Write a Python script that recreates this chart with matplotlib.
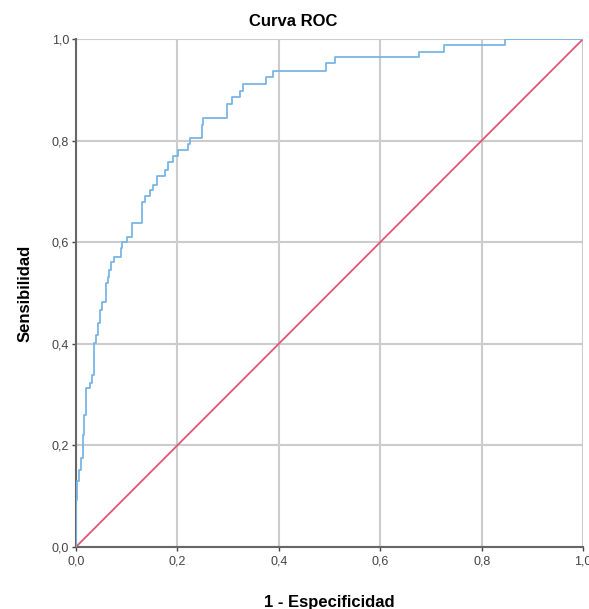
import matplotlib
matplotlib.use("Agg")
from matplotlib import pyplot as plt

# ROC curve: start of each horizontal step (1 - especificidad, sensibilidad)
fpr = [0.000, 0.000, 0.002, 0.006, 0.010, 0.014, 0.016, 0.020, 0.028, 0.031,
       0.036, 0.039, 0.043, 0.047, 0.052, 0.060, 0.063, 0.066, 0.070, 0.074,
       0.088, 0.090, 0.100, 0.110, 0.131, 0.136, 0.146, 0.152, 0.159, 0.175,
       0.182, 0.192, 0.201, 0.221, 0.224, 0.248, 0.251, 0.298, 0.308, 0.324,
       0.329, 0.375, 0.388, 0.493, 0.510, 0.677, 0.726, 0.846, 1.000]
tpr = [0.000, 0.093, 0.130, 0.152, 0.175, 0.220, 0.260, 0.312, 0.322, 0.339,
       0.401, 0.417, 0.440, 0.467, 0.483, 0.519, 0.532, 0.545, 0.560, 0.571,
       0.588, 0.601, 0.611, 0.638, 0.680, 0.691, 0.703, 0.713, 0.730, 0.742,
       0.757, 0.770, 0.781, 0.793, 0.806, 0.830, 0.845, 0.872, 0.885, 0.898,
       0.911, 0.925, 0.937, 0.952, 0.964, 0.975, 0.988, 1.000, 1.000]
ref_line = [0.0, 1.0]
ticks = [0.0, 0.2, 0.4, 0.6, 0.8, 1.0]
tick_labels = ["0,0", "0,2", "0,4", "0,6", "0,8", "1,0"]

plt.rcParams['font.family'] = ['Liberation Sans', 'DejaVu Sans']

fig = plt.figure(figsize=(5.89, 6.09), dpi=100)
ax = fig.add_axes([0.129, 0.102, 0.861, 0.834])

ax.plot(fpr, tpr, drawstyle='steps-post', color='#78b6e6', lw=1.3, zorder=3)
ax.plot(ref_line, ref_line, color='#e05775', lw=1.3, zorder=2)

ax.set_xlim(0, 1)
ax.set_ylim(0, 1)
ax.set_xticks(ticks)
ax.set_xticklabels(tick_labels)
ax.set_yticks(ticks)
ax.set_yticklabels(tick_labels)
ax.grid(True, color='#cccccc', lw=1.5)
ax.set_axisbelow(True)

for s in ['top', 'right']:
    ax.spines[s].set_visible(False)
for s in ['left', 'bottom']:
    ax.spines[s].set_color('#666666')
    ax.spines[s].set_linewidth(1.5)

ax.tick_params(axis='both', labelsize=9, colors='#444444', length=3, width=1)
ax.tick_params(axis='x', pad=3)
ax.tick_params(axis='y', pad=2)

ax.set_xlabel("1 - Especificidad", fontsize=12, fontweight='bold', labelpad=20)
ax.set_ylabel("Sensibilidad", fontsize=12, fontweight='bold', labelpad=14)
fig.text(0.497, 0.965, "Curva ROC", ha='center', va='center', fontsize=12, fontweight='bold')

fig.savefig("out.png", dpi=100)
